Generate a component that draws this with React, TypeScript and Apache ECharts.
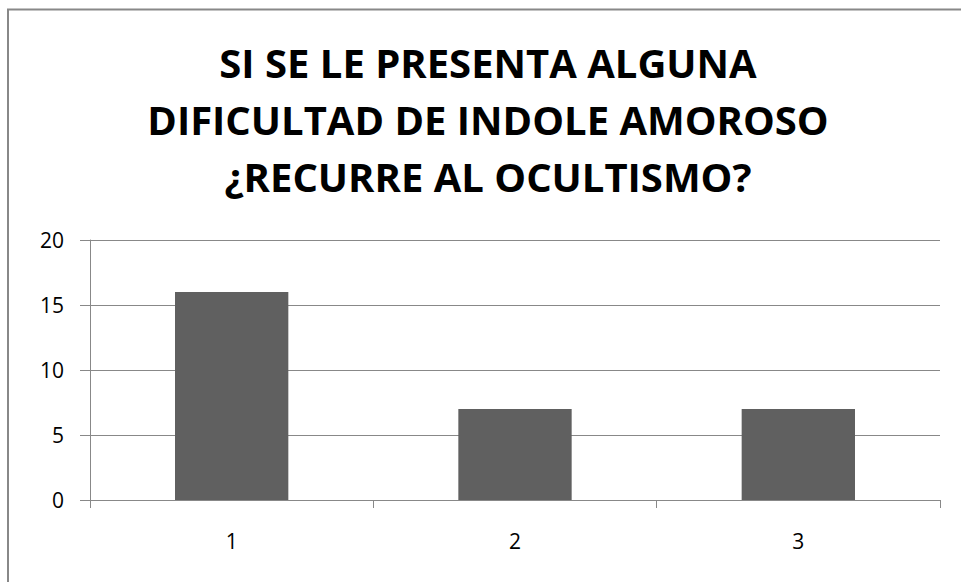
import React, { useEffect, useRef } from "react";
import * as echarts from "echarts";

const titleLines = [
  "SI SE LE PRESENTA ALGUNA",
  "DIFICULTAD DE INDOLE AMOROSO",
  "¿RECURRE AL OCULTISMO?",
];
const categories = ["1", "2", "3"];
const values = [16, 7, 7];
const yTicks = { min: 0, max: 20, interval: 5 };

const FONT = "'Open Sans', sans-serif";

export default function App() {
  const ref = useRef<HTMLDivElement>(null);
  useEffect(() => {
    document.body.style.margin = "0";
    const chart = echarts.init(ref.current!, null, { renderer: "svg" });
    chart.setOption({
      animation: false,
      backgroundColor: "#ffffff",
      graphic: [
        {
          type: "rect",
          shape: { x: 8, y: 9.5, width: 1200, height: 1000 },
          style: { fill: "none", stroke: "#888888", lineWidth: 2 },
          silent: true,
        },
        ...titleLines.map((t, i) => ({
          type: "text",
          x: 488,
          y: 62 + i * 57,
          style: {
            text: t,
            fill: "#000000",
            font: `bold 40px ${FONT}`,
            textAlign: "center",
            textVerticalAlign: "middle",
          },
        })),
      ],
      grid: { left: 90, right: 21, top: 240, bottom: 82, containLabel: false },
      xAxis: {
        type: "category",
        data: categories,
        axisLine: { show: true, lineStyle: { color: "#888888", width: 1 } },
        axisTick: { show: true, length: 8, lineStyle: { color: "#888888" } },
        axisLabel: { color: "#000000", fontSize: 21, fontFamily: FONT, margin: 30 },
      },
      yAxis: {
        type: "value",
        min: yTicks.min,
        max: yTicks.max,
        interval: yTicks.interval,
        axisLine: { show: true, lineStyle: { color: "#888888", width: 1 } },
        axisTick: { show: true, length: 10, lineStyle: { color: "#888888" } },
        splitLine: { show: true, lineStyle: { color: "#888888", width: 1 } },
        axisLabel: { color: "#000000", fontSize: 21, fontFamily: FONT, margin: 26 },
      },
      series: [
        {
          type: "bar",
          data: values,
          barWidth: "40%",
          itemStyle: { color: "#606060" },
        },
      ],
    });
    return () => chart.dispose();
  }, []);
  return <div ref={ref} style={{ width: 961, height: 582 }} />;
}
